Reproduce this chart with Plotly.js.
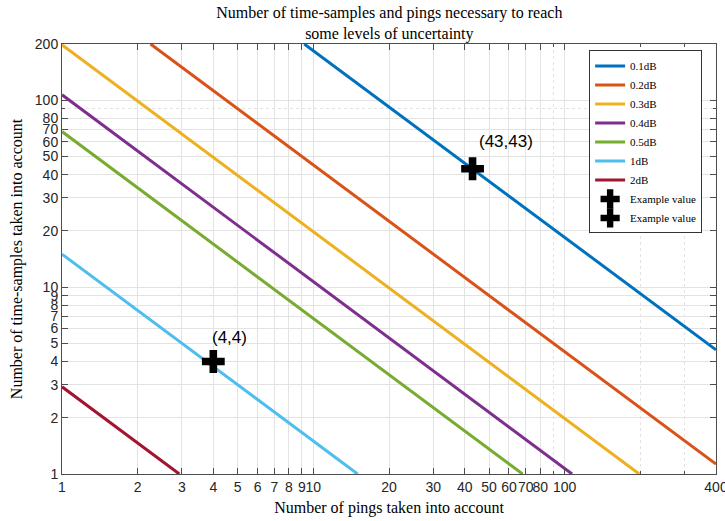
<!DOCTYPE html>
<html>
<head>
<meta charset="utf-8">
<script src="https://cdn.plot.ly/plotly-3.0.1.min.js"></script>
<style>html,body{margin:0;padding:0;background:#fff}#chart{width:725px;height:521px}</style>
</head>
<body>
<div id="chart"></div>
<script>
// Series names and colours
const seriesNames = ["0.1dB", "0.2dB", "0.3dB", "0.4dB", "0.5dB", "1dB", "2dB"];
const seriesColors = ["#0072BD", "#D95319", "#EDB120", "#7E2F8E", "#77AC30", "#4DBEEE", "#A2142F"];
// Endpoints of each line (pings, time-samples)
const x01 = [9.2, 400];   const y01 = [200, 4.62];
const x02 = [2.25, 400];  const y02 = [200, 1.13];
const x03 = [1, 198];     const y03 = [198, 1];
const x04 = [1, 107];     const y04 = [107, 1];
const x05 = [1, 68];      const y05 = [68, 1];
const x1  = [1, 15];      const y1  = [15, 1];
const x2  = [1, 2.93];    const y2  = [2.93, 1];
const seriesX = [x01, x02, x03, x04, x05, x1, x2];
const seriesY = [y01, y02, y03, y04, y05, y1, y2];
// Example points
const exampleX = [43, 4];
const exampleY = [43, 4];
const exampleLabels = ["(43,43)", "(4,4)"];
// Tick labels
const xTicks = [1, 2, 3, 4, 5, 6, 7, 8, 9, 10, 20, 30, 40, 50, 60, 70, 80, 100, 400];
const yTicks = [1, 2, 3, 4, 5, 6, 7, 8, 9, 10, 20, 30, 40, 50, 60, 70, 80, 100, 200];
const xMinor = [90, 200, 300];
const yMinor = [90];

const traces = [];
for (let i = 0; i < seriesNames.length; i++) {
  traces.push({
    x: seriesX[i], y: seriesY[i], type: "scatter", mode: "lines",
    name: seriesNames[i], line: {color: seriesColors[i], width: 3}
  });
}
for (let i = 0; i < exampleX.length; i++) {
  traces.push({
    x: [exampleX[i]], y: [exampleY[i]], type: "scatter", mode: "markers",
    name: "Example value",
    marker: {symbol: "cross", size: 19, color: "#000", line: {width: 0}}
  });
}

const serif = "Liberation Serif, DejaVu Serif, serif";
const sans = "Liberation Sans, Arial, sans-serif";
const annotations = exampleLabels.map((t, i) => ({
  x: Math.log10(exampleX[i]), y: Math.log10(exampleY[i]), xref: "x", yref: "y",
  text: t, showarrow: false, xanchor: "center", yanchor: "bottom",
  xshift: 33, yshift: 16, font: {family: sans, size: 17, color: "#000"}
}));
annotations[1].xshift = 16;
annotations[1].yshift = 12;

const axisCommon = {
  type: "log", showline: true, linecolor: "#4d4d4d", linewidth: 1, mirror: "ticks",
  ticks: "inside", ticklen: 6, tickcolor: "#4d4d4d", tickmode: "array", tickangle: 0,
  ticklabeloverflow: "allow",
  showgrid: true, gridcolor: "#e3e3e3", gridwidth: 1, zeroline: false,
  tickfont: {family: sans, size: 14, color: "#262626"}
};

const layout = {
  width: 725, height: 521,
  margin: {l: 62, r: 9, t: 44, b: 47},
  paper_bgcolor: "#fff", plot_bgcolor: "#fff",
  title: {text: "Number of time-samples and pings necessary to reach<br>some levels of uncertainty",
          font: {family: serif, size: 16, color: "#000"}, x: 0.537, xanchor: "center",
          yref: "paper", y: 1, yanchor: "bottom", pad: {b: 26}},
  xaxis: Object.assign({}, axisCommon, {
    range: [0, Math.log10(400)], tickvals: xTicks, ticktext: xTicks.map(String),
    title: {text: "Number of pings taken into account", font: {family: serif, size: 16, color: "#000"}, standoff: 8},
    minor: {tickmode: "array", tickvals: xMinor, showgrid: true, gridcolor: "#e3e3e3", griddash: "dot", ticks: "inside", ticklen: 3, tickcolor: "#4d4d4d"}
  }),
  yaxis: Object.assign({}, axisCommon, {
    range: [0, Math.log10(200)], tickvals: yTicks, ticktext: yTicks.map(String),
    title: {text: "Number of time-samples taken into account", font: {family: serif, size: 16, color: "#000"}, standoff: 8},
    minor: {tickmode: "array", tickvals: yMinor, showgrid: true, gridcolor: "#e3e3e3", griddash: "dot", ticks: "inside", ticklen: 3, tickcolor: "#4d4d4d"}
  }),
  legend: {x: 0.806, y: 0.985, xanchor: "left", yanchor: "top",
           bgcolor: "#fff", bordercolor: "#333", borderwidth: 1,
           font: {family: serif, size: 11, color: "#000"}, tracegroupgap: 0, itemwidth: 30},
  annotations: annotations,
  showlegend: true
};

Plotly.newPlot("chart", traces, layout, {displayModeBar: false, staticPlot: true});
</script>
</body>
</html>
